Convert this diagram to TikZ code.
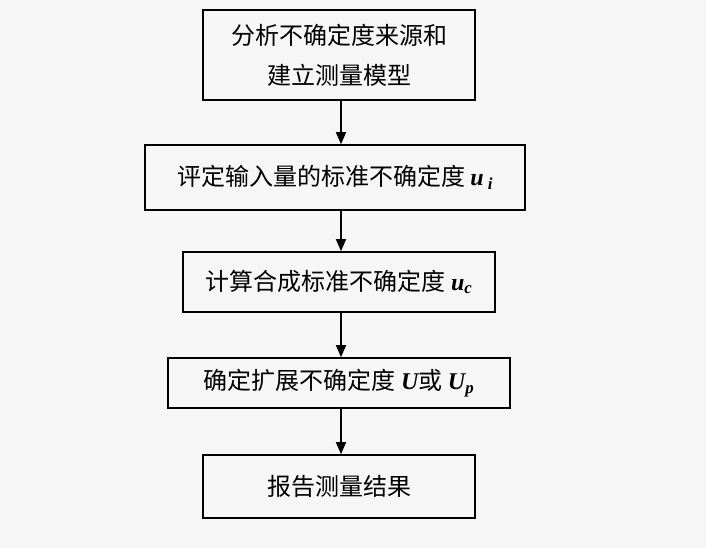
\documentclass[tikz,border=0pt]{standalone}
\usepackage{fontspec}
\newfontfamily\cjk{Noto Sans CJK SC}
\newfontfamily\lat{Liberation Serif}
\newcommand{\vv}[1]{{\lat\bfseries\itshape #1}}
\newcommand{\vs}[1]{\textsubscript{\lat\bfseries\itshape #1}}
\usetikzlibrary{arrows.meta}
\begin{document}
\begin{tikzpicture}[x=1pt,y=-1pt,
  box/.style={draw,line width=1.6pt,minimum height=#1,inner sep=0pt,align=center,font=\fontsize{24}{40}\selectfont\cjk},
  arr/.style={-{Triangle[length=12pt,width=10pt]},line width=1.4pt}]
\fill[white!93!gray] (0,0) rectangle (706,548);
\useasboundingbox (0,0) rectangle (706,548);
\node[box=90pt,minimum width=272pt] (a) at (339,55) {分析不确定度来源和\\建立测量模型};
\node[box=65pt,minimum width=380pt] (b) at (335,177.5) {评定输入量的标准不确定度 \vv{u}\,\vs{i}};
\node[box=60pt,minimum width=312pt] (c) at (339,282) {计算合成标准不确定度 \vv{u}\vs{c}};
\node[box=50pt,minimum width=342pt] (d) at (339,383) {确定扩展不确定度 \vv{U}或 \vv{U}\vs{p}};
\node[box=63pt,minimum width=272pt] (e) at (339,486.5) {报告测量结果};
\draw[arr] (a.south) ++(2,0) coordinate (a1) -- (a1 |- b.north);
\draw[arr] (a1 |- b.south) -- (a1 |- c.north);
\draw[arr] (a1 |- c.south) -- (a1 |- d.north);
\draw[arr] (a1 |- d.south) -- (a1 |- e.north);
\end{tikzpicture}
\end{document}
